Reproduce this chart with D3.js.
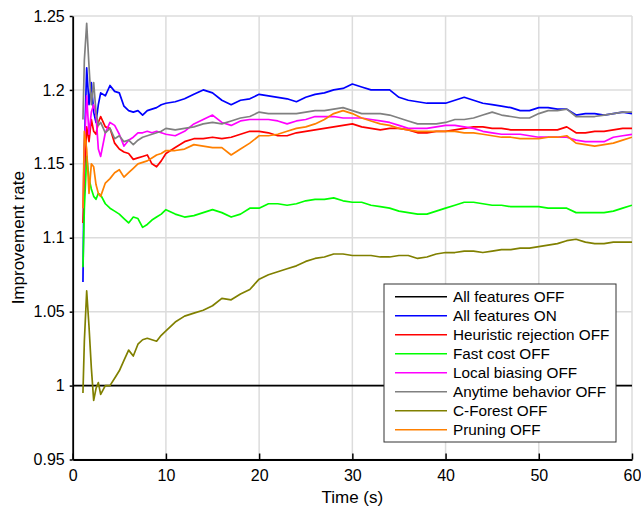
<!DOCTYPE html>
<html>
<head>
<meta charset="utf-8">
<script src="https://cdn.jsdelivr.net/npm/d3@7"></script>
<style>
  html, body { margin: 0; padding: 0; background: #fff; }
  svg { display: block; font-family: "Liberation Sans", Arial, sans-serif; }
</style>
</head>
<body>
<svg id="chart" width="641" height="511"></svg>
<script>
// Improvement rate over time for each feature ablation
const times = [1.1, 1.25, 1.5, 1.75, 2, 2.25, 2.5, 2.75, 3, 3.5, 4, 4.5, 5, 5.5, 6, 6.5, 7, 7.5, 8, 8.5, 9, 9.5, 10,
  11, 12, 13, 14, 15, 16, 17, 18, 19, 20, 21, 22, 23, 24, 25, 26, 27, 28, 29, 30,
  31, 32, 33, 34, 35, 36, 37, 38, 39, 40, 41, 42, 43, 44, 45, 46, 47, 48, 49, 50,
  51, 52, 53, 54, 55, 56, 57, 58, 59, 60];

const allOffTimes = [0, 60];
const allOff = [1, 1];

const allOn = [1.07, 1.16, 1.215, 1.19, 1.205, 1.185, 1.178, 1.19, 1.198, 1.196, 1.203, 1.199, 1.198, 1.189, 1.186, 1.185, 1.186, 1.183, 1.186, 1.187, 1.188, 1.19, 1.191,
  1.192, 1.194, 1.197, 1.2, 1.198, 1.193, 1.19, 1.193, 1.194, 1.197, 1.196, 1.195, 1.194, 1.192, 1.195, 1.197, 1.198, 1.2, 1.201, 1.204,
  1.202, 1.2, 1.2, 1.2, 1.195, 1.193, 1.192, 1.191, 1.191, 1.191, 1.193, 1.195, 1.193, 1.191, 1.19, 1.189, 1.188, 1.186, 1.186, 1.188,
  1.188, 1.187, 1.187, 1.183, 1.184, 1.184, 1.183, 1.184, 1.185, 1.184];

const heuristicOff = [1.11, 1.14, 1.175, 1.165, 1.18, 1.172, 1.17, 1.178, 1.182, 1.175, 1.174, 1.164, 1.16, 1.158, 1.157, 1.153, 1.154, 1.155, 1.156, 1.15, 1.148, 1.152, 1.157,
  1.161, 1.165, 1.167, 1.167, 1.168, 1.167, 1.168, 1.17, 1.172, 1.172, 1.171, 1.169, 1.169, 1.171, 1.172, 1.173, 1.174, 1.175, 1.176, 1.177,
  1.175, 1.174, 1.173, 1.174, 1.174, 1.173, 1.171, 1.171, 1.172, 1.172, 1.173, 1.174, 1.175, 1.175, 1.174, 1.174, 1.173, 1.173, 1.173, 1.173,
  1.173, 1.173, 1.175, 1.171, 1.171, 1.172, 1.172, 1.173, 1.174, 1.174];

const fastCostOff = [1.08, 1.12, 1.155, 1.14, 1.133, 1.128, 1.126, 1.13, 1.129, 1.123, 1.12, 1.118, 1.116, 1.113, 1.11, 1.114, 1.113, 1.107, 1.109, 1.112, 1.114, 1.116, 1.119,
  1.116, 1.114, 1.115, 1.117, 1.119, 1.117, 1.114, 1.116, 1.12, 1.12, 1.123, 1.123, 1.122, 1.123, 1.125, 1.126, 1.126, 1.127, 1.125, 1.124,
  1.124, 1.122, 1.121, 1.12, 1.118, 1.117, 1.116, 1.116, 1.118, 1.12, 1.122, 1.124, 1.124, 1.123, 1.122, 1.122, 1.121, 1.121, 1.121, 1.121,
  1.12, 1.12, 1.12, 1.117, 1.117, 1.117, 1.117, 1.118, 1.12, 1.122];

const localBiasOff = [1.12, 1.16, 1.196, 1.17, 1.185, 1.19, 1.183, 1.16, 1.155, 1.171, 1.178, 1.176, 1.17, 1.162, 1.166, 1.168, 1.171, 1.171, 1.172, 1.171, 1.172, 1.171, 1.17,
  1.169, 1.172, 1.177, 1.18, 1.183, 1.178, 1.176, 1.179, 1.18, 1.18, 1.18, 1.179, 1.177, 1.179, 1.18, 1.182, 1.182, 1.182, 1.181, 1.181,
  1.181, 1.18, 1.179, 1.178, 1.176, 1.174, 1.174, 1.174, 1.175, 1.176, 1.176, 1.175, 1.174, 1.172, 1.171, 1.17, 1.17, 1.17, 1.169, 1.168,
  1.168, 1.168, 1.168, 1.166, 1.165, 1.165, 1.165, 1.168, 1.169, 1.17];

const anytimeOff = [1.18, 1.22, 1.245, 1.216, 1.19, 1.205, 1.185, 1.176, 1.178, 1.171, 1.174, 1.167, 1.169, 1.165, 1.166, 1.163, 1.166, 1.168, 1.169, 1.17, 1.171, 1.172, 1.174,
  1.173, 1.174, 1.175, 1.177, 1.178, 1.177, 1.179, 1.181, 1.182, 1.185, 1.184, 1.184, 1.184, 1.184, 1.185, 1.186, 1.186, 1.187, 1.188, 1.186,
  1.184, 1.184, 1.184, 1.183, 1.181, 1.179, 1.177, 1.177, 1.177, 1.178, 1.18, 1.18, 1.181, 1.183, 1.185, 1.183, 1.182, 1.181, 1.181, 1.184,
  1.186, 1.186, 1.187, 1.182, 1.182, 1.182, 1.183, 1.184, 1.185, 1.185];

const cForestOff = [0.995, 1.03, 1.064, 1.04, 1.012, 0.99, 0.998, 1.002, 0.994, 1.0, 1.0, 1.005, 1.01, 1.017, 1.024, 1.02, 1.028, 1.031, 1.032, 1.031, 1.03, 1.034, 1.037,
  1.043, 1.047, 1.049, 1.051, 1.054, 1.059, 1.058, 1.062, 1.065, 1.072, 1.075, 1.077, 1.079, 1.081, 1.084, 1.086, 1.087, 1.089, 1.089, 1.088,
  1.088, 1.088, 1.087, 1.087, 1.088, 1.088, 1.086, 1.087, 1.089, 1.09, 1.09, 1.091, 1.091, 1.09, 1.091, 1.092, 1.092, 1.093, 1.093, 1.094,
  1.095, 1.096, 1.098, 1.099, 1.097, 1.096, 1.096, 1.097, 1.097, 1.097];

const pruningOff = [1.12, 1.172, 1.16, 1.13, 1.15, 1.148, 1.136, 1.13, 1.128, 1.137, 1.14, 1.144, 1.146, 1.141, 1.144, 1.147, 1.15, 1.151, 1.152, 1.154, 1.156, 1.157, 1.159,
  1.159, 1.16, 1.163, 1.162, 1.161, 1.161, 1.156, 1.16, 1.164, 1.169, 1.169, 1.17, 1.172, 1.174, 1.175, 1.177, 1.18, 1.184, 1.186, 1.184,
  1.181, 1.179, 1.177, 1.176, 1.174, 1.173, 1.172, 1.172, 1.172, 1.172, 1.172, 1.171, 1.171, 1.17, 1.169, 1.168, 1.168, 1.167, 1.167, 1.167,
  1.168, 1.168, 1.169, 1.164, 1.163, 1.162, 1.163, 1.164, 1.166, 1.168];

const seriesNames = ["All features OFF", "All features ON", "Heuristic rejection OFF", "Fast cost OFF",
  "Local biasing OFF", "Anytime behavior OFF", "C-Forest OFF", "Pruning OFF"];
const seriesColors = ["#000000", "#0000ff", "#ff0000", "#00ff00", "#ff00ff", "#808080", "#808000", "#ff8000"];

const xTicks = [0, 10, 20, 30, 40, 50, 60];
const yTicks = [0.95, 1, 1.05, 1.1, 1.15, 1.2, 1.25];
const yTickLabels = ["0.95", "1", "1.05", "1.1", "1.15", "1.2", "1.25"];

(function(){
  const svg = d3.select('#chart');
  const M = { left: 72.7, right: 632, top: 16, bottom: 459.5 };

  const x = d3.scaleLinear().domain([0, 60]).range([M.left, M.right]);
  const y = d3.scaleLinear().domain([0.95, 1.25]).range([M.bottom, M.top]);

  // grid
  const grid = svg.append('g').attr('stroke', '#dcdcdc').attr('stroke-width', 1.5);
  grid.selectAll('.gx').data(xTicks).enter().append('line')
    .attr('x1', d => x(d)).attr('x2', d => x(d))
    .attr('y1', M.top).attr('y2', M.bottom);
  grid.selectAll('.gy').data(yTicks).enter().append('line')
    .attr('x1', M.left).attr('x2', M.right)
    .attr('y1', d => y(d)).attr('y2', d => y(d));

  svg.append('clipPath').attr('id', 'clip')
    .append('rect').attr('x', M.left).attr('y', M.top)
    .attr('width', M.right - M.left).attr('height', M.bottom - M.top);

  const line = d3.line().x(d => x(d[0])).y(d => y(d[1]));
  const zip = (ts, vs) => ts.map((t, i) => [t, vs[i]]);

  const series = [
    zip(allOffTimes, allOff),
    zip(times, allOn),
    zip(times, heuristicOff),
    zip(times, fastCostOff),
    zip(times, localBiasOff),
    zip(times, anytimeOff),
    zip(times, cForestOff),
    zip(times, pruningOff)
  ];

  const gLines = svg.append('g').attr('clip-path', 'url(#clip)').attr('fill', 'none');
  series.forEach((s, i) => {
    gLines.append('path')
      .attr('d', line(s))
      .attr('stroke', seriesColors[i])
      .attr('stroke-width', i === 0 ? 1.8 : 1.7)
      .attr('stroke-linejoin', 'round');
  });

  // axes
  const xAxis = d3.axisBottom(x).tickValues(xTicks).tickSizeInner(-6).tickSizeOuter(0).tickPadding(10);
  const gx = svg.append('g').attr('transform', `translate(0,${M.bottom})`).call(xAxis);
  gx.select('.domain').attr('stroke-width', 1.8);
  gx.selectAll('.tick line').attr('stroke-width', 1.5);
  gx.selectAll('text').attr('font-size', 16).attr('fill', '#000').attr('font-family', '"Liberation Sans", Arial, sans-serif');

  const yAxis = d3.axisLeft(y).tickValues(yTicks).tickFormat((d, i) => yTickLabels[i])
    .tickSizeInner(3).tickSizeOuter(0).tickPadding(5);
  const gy = svg.append('g').attr('transform', `translate(${M.left},0)`).call(yAxis);
  gy.select('.domain').attr('stroke-width', 1.8);
  gy.selectAll('.tick line').attr('stroke-width', 1.5);
  gy.selectAll('text').attr('font-size', 16).attr('fill', '#000').attr('font-family', '"Liberation Sans", Arial, sans-serif');

  // axis labels
  svg.append('text')
    .attr('x', (M.left + M.right) / 2).attr('y', 503)
    .attr('text-anchor', 'middle').attr('font-size', 17)
    .text('Time (s)');
  svg.append('text')
    .attr('transform', `translate(24,${(M.top + M.bottom) / 2}) rotate(-90)`)
    .attr('text-anchor', 'middle').attr('font-size', 17)
    .text('Improvement rate');

  // legend
  const LG = { x: 384, y: 284, w: 232, h: 158, row: 19, first: 12.7 };
  const lg = svg.append('g');
  lg.append('rect')
    .attr('x', LG.x).attr('y', LG.y).attr('width', LG.w).attr('height', LG.h)
    .attr('fill', '#fff').attr('stroke', '#333').attr('stroke-width', 1);
  seriesNames.forEach((name, i) => {
    const cy = LG.y + LG.first + i * LG.row;
    lg.append('line')
      .attr('x1', LG.x + 11).attr('x2', LG.x + 63)
      .attr('y1', cy).attr('y2', cy)
      .attr('stroke', seriesColors[i]).attr('stroke-width', 1.5);
    lg.append('text')
      .attr('x', LG.x + 69).attr('y', cy).attr('dy', '0.35em')
      .attr('font-size', 15.3)
      .text(name);
  });
})();
</script>
</body>
</html>
